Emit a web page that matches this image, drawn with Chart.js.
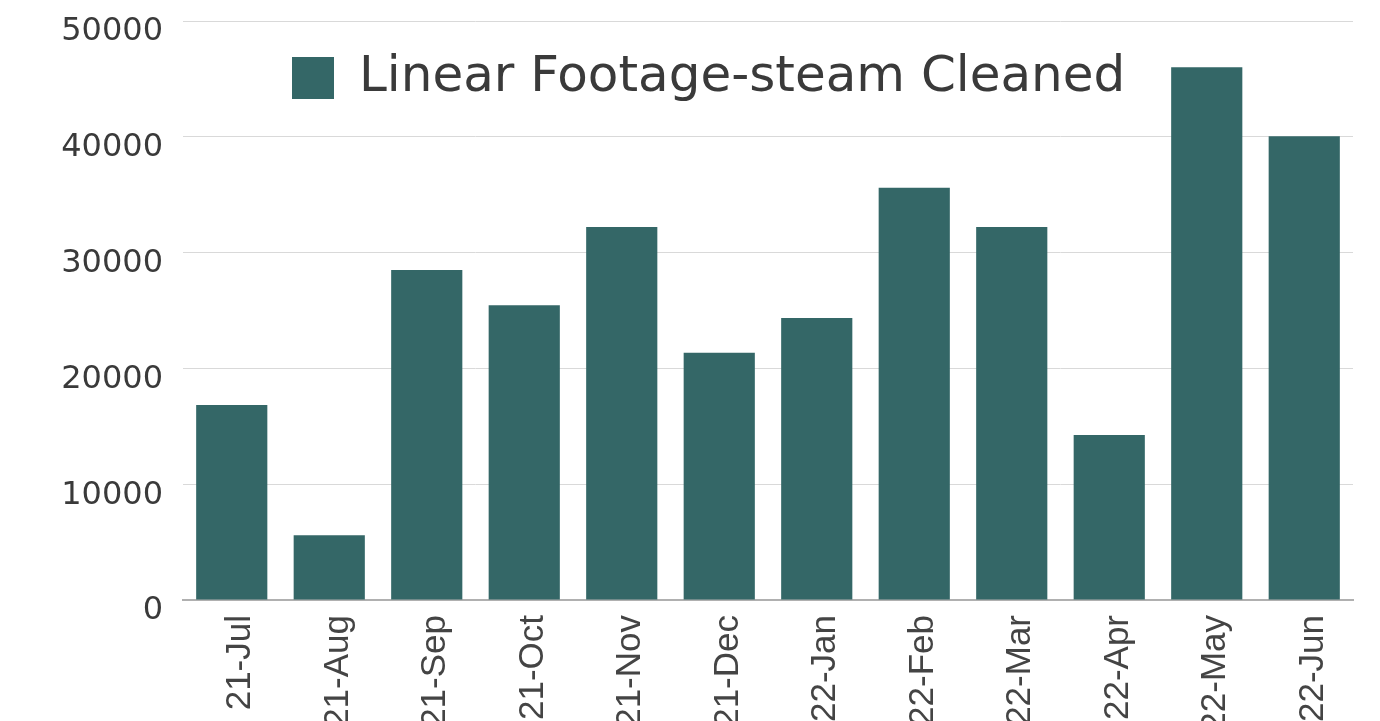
<!DOCTYPE html>
<html>
<head>
<meta charset="utf-8">
<script src="https://cdn.jsdelivr.net/npm/chart.js@4"></script>
<style>
  html, body { margin: 0; padding: 0; background: #fff; }
  #wrap { width: 1380px; height: 721px; }
</style>
</head>
<body>
<div id="wrap"><canvas id="chart" width="1380" height="721"></canvas></div>
<script>
  var categories = ['21-Jul', '21-Aug', '21-Sep', '21-Oct', '21-Nov', '21-Dec',
    '22-Jan', '22-Feb', '22-Mar', '22-Apr', '22-May', '22-Jun'];
  var footage = [16850, 5600, 28500, 25450, 32200, 21350,
    24350, 35600, 32200, 14250, 46000, 40050];
  var seriesName = 'Linear Footage-steam Cleaned';
  var yTicks = [0, 10000, 20000, 30000, 40000, 50000];

  var barColor = '#346767';
  var textColor = '#3a3a3a';

  // legend sits inside the plot, a bit left of centre
  var legendPlacer = {
    id: 'legendPlacer',
    afterLayout: function (chart) {
      var lg = chart.legend;
      var w = lg.right - lg.left;
      lg.left = chart.chartArea.left + 99;
      lg.right = lg.left + w;
      lg.top = chart.chartArea.top + 22;
    }
  };

  new Chart(document.getElementById('chart'), {
    type: 'bar',
    data: {
      labels: categories,
      datasets: [{
        label: seriesName,
        data: footage,
        backgroundColor: barColor,
        borderWidth: 0,
        barPercentage: 0.73,
        categoryPercentage: 1
      }]
    },
    options: {
      responsive: false,
      animation: false,
      layout: { padding: { top: 21, right: 27, left: 0, bottom: 0 } },
      scales: {
        x: {
          grid: { display: false, drawTicks: false },
          border: { display: true, color: '#b0b0b0', width: 2 },
          ticks: {
            color: '#444',
            font: { family: 'Liberation Sans', size: 35 },
            minRotation: 90,
            maxRotation: 90,
            padding: 15,
            labelOffset: 9,
            autoSkip: false
          },
          afterFit: function (scale) { scale.height = 121; }
        },
        y: {
          min: 0,
          max: 50000,
          afterBuildTicks: function (scale) {
            scale.ticks = yTicks.map(function (v) { return { value: v }; });
          },
          grid: { color: '#d9d9d9', lineWidth: 1, drawTicks: false },
          border: { display: false },
          ticks: {
            color: textColor,
            font: { family: 'DejaVu Sans', size: 32 },
            padding: 20,
            labelOffset: 11,
            callback: function (v) { return String(v); }
          },
          afterFit: function (scale) {
            scale.width = 183;
            scale.paddingTop = 0;
            scale.paddingBottom = 0;
          }
        }
      },
      plugins: {
        legend: {
          position: 'chartArea',
          align: 'start',
          labels: {
            color: textColor,
            font: { family: 'DejaVu Sans', size: 50 },
            boxWidth: 42,
            boxHeight: 42,
            padding: 10
          }
        },
        tooltip: { enabled: false }
      }
    },
    plugins: [legendPlacer]
  });
</script>
</body>
</html>
